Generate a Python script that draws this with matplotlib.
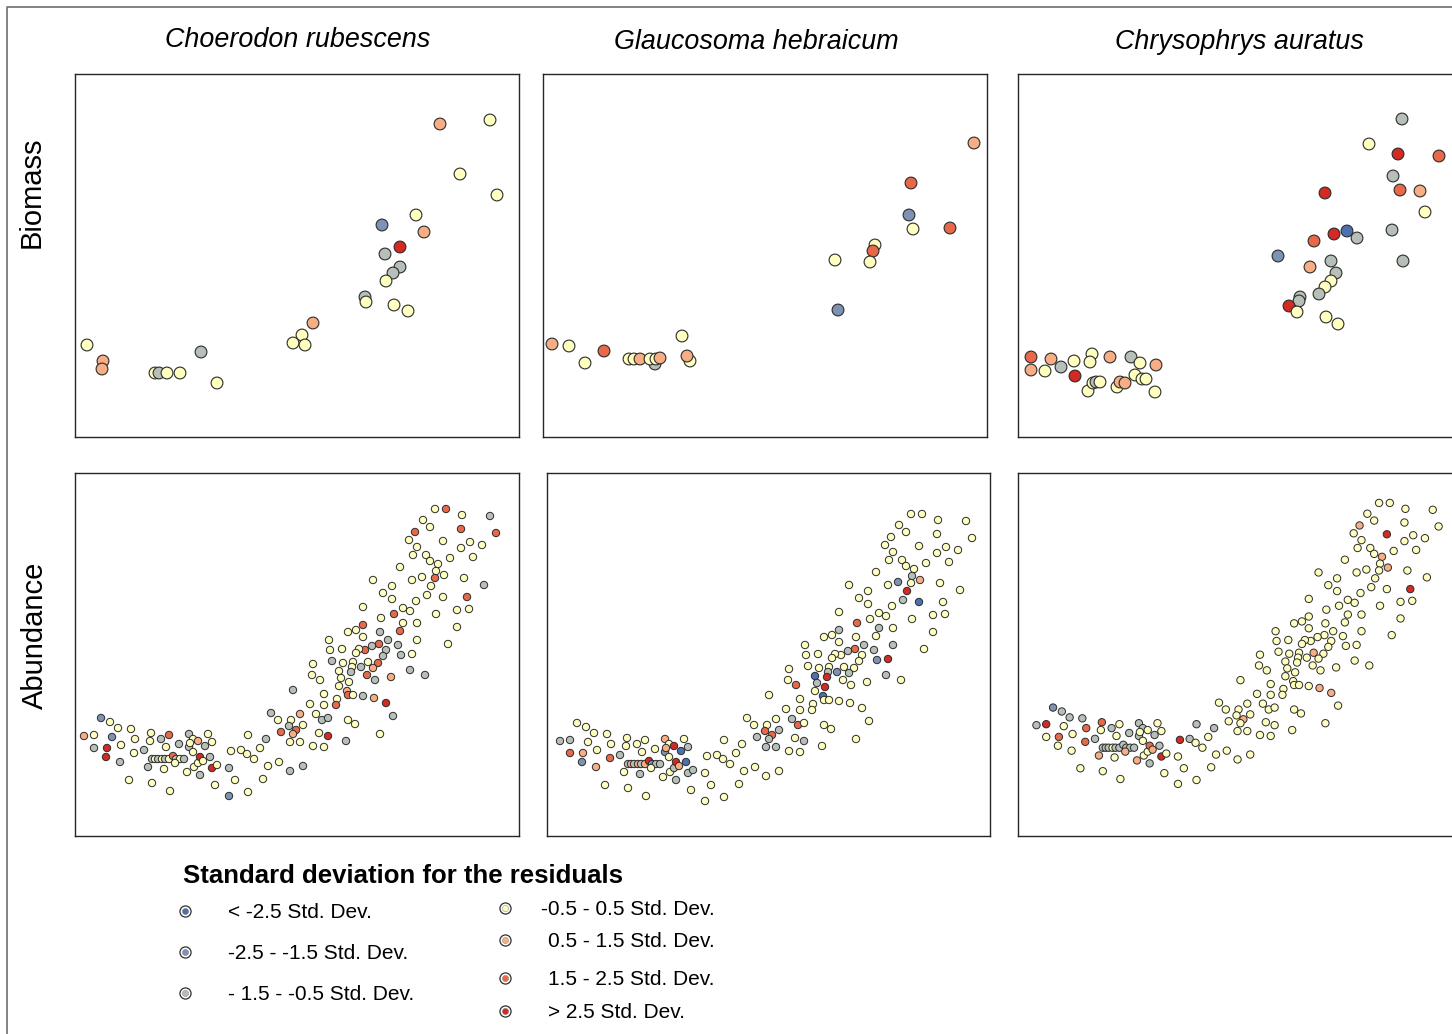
import matplotlib
matplotlib.use("Agg")
import matplotlib.pyplot as plt

plt.rcParams['font.family'] = ['Liberation Sans', 'DejaVu Sans']

# residual classes: 0 <-2.5 ... 6 >2.5
class_labels = ["< -2.5 Std. Dev.", "-2.5 - -1.5 Std. Dev.", "- 1.5 - -0.5 Std. Dev.",
                "-0.5 - 0.5 Std. Dev.", "0.5 - 1.5 Std. Dev.", "1.5 - 2.5 Std. Dev.",
                "> 2.5 Std. Dev."]
class_colors = ['#4a72b0', '#7d93b3', '#b6c0b9', '#ffffc0', '#f8ae84', '#e8694a', '#d42a24']

species = ["Choerodon rubescens", "Glaucosoma hebraicum", "Chrysophrys auratus"]

# ---- Biomass sites (one set per species) ----
bio_x1 = [365, 415, 385, 422, 341, 307, 349, 325, 310, 325, 318, 311, 290, 291, 319, 333,
          238, 227, 218, 230, 12, 28, 27, 126, 80, 84, 92, 105, 142]
bio_y1 = [313, 317, 263, 242, 222, 212, 205, 190, 183, 170, 164, 156, 140, 135, 132, 126,
          114, 102, 94, 92, 92, 76, 68, 85, 64, 64, 64, 64, 54]
bio_c1 = [4, 3, 3, 3, 3, 1, 4, 6, 2, 2, 2, 3, 2, 3, 3, 3,
          4, 3, 3, 3, 3, 4, 4, 2, 3, 2, 3, 3, 3]

bio_x2 = [431, 368, 366, 370, 407, 332, 330, 327, 292, 295, 139, 9, 26, 61, 42, 86,
          91, 97, 112, 107, 113, 117, 147, 144]
bio_y2 = [294, 254, 222, 208, 209, 192, 186, 175, 177, 127, 101, 93, 91, 86, 74, 78,
          78, 78, 73, 78, 78, 79, 76, 81]
bio_c2 = [4, 5, 1, 3, 5, 3, 5, 3, 3, 1, 3, 4, 3, 5, 3, 3,
          3, 4, 2, 3, 3, 4, 3, 4]

bio_x3 = [384, 351, 380, 421, 375, 382, 402, 407, 307, 316, 329, 339, 374, 385, 296, 260,
          292, 313, 318, 313, 307, 301, 282, 281, 271, 279, 308, 320,
          13, 13, 33, 27, 43, 56, 57, 74, 72, 92, 113, 122, 138, 117, 124, 128, 137,
          70, 75, 78, 82, 99, 102, 107]
bio_y3 = [318, 293, 283, 281, 261, 247, 246, 225, 244, 203, 206, 199, 207, 176, 196, 181,
          170, 176, 164, 156, 150, 143, 140, 136, 131, 125, 120, 113,
          80, 67, 78, 66, 70, 76, 61, 83, 75, 80, 80, 74, 72, 62, 58, 58, 45,
          46, 54, 55, 55, 50, 55, 54]
bio_c3 = [2, 3, 6, 5, 2, 5, 4, 3, 6, 6, 0, 2, 2, 2, 5, 1,
          4, 2, 2, 3, 3, 2, 2, 2, 6, 3, 3, 3,
          5, 4, 4, 3, 2, 3, 6, 3, 3, 4, 2, 3, 4, 3, 3, 3, 3,
          3, 3, 2, 3, 3, 4, 4]

# ---- Abundance sites (shared by all species) ----
site_x = [26, 35, 43, 56, 9, 19, 37, 60, 76, 75, 86, 94, 114, 118, 123, 133, 19, 32, 31, 46,
          45, 59, 69, 91, 104, 114, 115, 130, 137, 118, 77, 80, 83, 87, 90, 94, 98, 101, 105, 109,
          100, 73, 89, 112, 119, 123, 125, 128, 135, 125, 137, 142, 54, 77, 95, 140, 154, 154, 160, 173,
          156, 166, 172, 179, 173, 185, 191, 193, 188, 204, 215, 228, 196, 203, 216, 225, 214, 221, 218, 206,
          215, 225, 228, 360, 371, 387, 415, 348, 355, 340, 386, 421, 334, 368, 395, 407, 386, 342, 338, 351,
          355, 363, 375, 398, 325, 361, 369, 360, 347, 337, 389, 409, 298, 317, 356, 308, 317, 352, 368, 392,
          341, 288, 328, 335, 382, 394, 361, 319, 306, 328, 342, 288, 281, 273, 305, 325, 382, 288, 254, 313,
          342, 373, 304, 297, 290, 311, 323, 255, 267, 284, 281, 308, 326, 337, 238, 257, 268, 278, 293, 303,
          277, 286, 298, 335, 350, 264, 276, 237, 245, 266, 274, 292, 300, 316, 264, 218, 272, 249, 273, 278,
          288, 299, 311, 262, 235, 249, 261, 241, 318, 247, 253, 273, 280, 244, 253, 305, 238, 249, 271]
site_y = [118, 114, 108, 107, 100, 101, 99, 97, 103, 95, 97, 101, 102, 97, 95, 102, 88, 88, 79, 91,
          74, 83, 86, 89, 92, 89, 93, 90, 94, 84, 77, 77, 77, 77, 77, 77, 80, 77, 77, 77,
          73, 69, 67, 64, 69, 73, 79, 75, 79, 61, 68, 71, 56, 53, 45, 51, 40, 68, 56, 44,
          85, 86, 82, 77, 101, 88, 97, 70, 57, 74, 65, 70, 123, 116, 116, 122, 110, 106, 102, 104,
          94, 94, 111, 327, 327, 321, 320, 316, 309, 304, 307, 303, 296, 295, 294, 291, 288, 289, 281, 281,
          275, 272, 278, 279, 269, 265, 261, 258, 259, 256, 258, 251, 256, 250, 250, 243, 237, 241, 239, 239,
          235, 229, 228, 225, 226, 227, 222, 222, 218, 213, 213, 211, 206, 204, 204, 205, 209, 199, 196, 196,
          196, 192, 192, 190, 186, 186, 191, 186, 187, 187, 183, 180, 181, 182, 172, 175, 173, 174, 174, 173,
          169, 169, 168, 166, 161, 165, 164, 161, 156, 158, 154, 161, 156, 159, 150, 146, 145, 142, 141, 141,
          140, 138, 133, 137, 132, 131, 131, 122, 120, 116, 118, 116, 112, 103, 100, 102, 90, 89, 95]

abund_c1 = [1, 3, 3, 3, 4, 3, 1, 3, 3, 3, 2, 5, 2, 3, 4, 3, 2, 6, 6, 3,
            2, 3, 2, 3, 2, 2, 3, 2, 3, 3, 2, 3, 2, 3, 2, 3, 5, 2, 3, 2,
            3, 2, 3, 3, 3, 3, 6, 3, 2, 2, 6, 3, 3, 3, 3, 3, 1, 2, 3, 3,
            3, 3, 3, 3, 3, 3, 2, 3, 3, 3, 2, 2, 2, 3, 3, 4, 2, 5, 4, 5,
            3, 3, 3, 3, 5, 3, 2, 3, 3, 5, 5, 5, 3, 3, 3, 3, 3, 3, 3, 3,
            3, 3, 3, 3, 3, 3, 3, 5, 3, 3, 3, 2, 3, 3, 3, 3, 3, 3, 3, 5,
            3, 3, 3, 3, 3, 3, 3, 5, 3, 3, 3, 5, 3, 3, 2, 5, 3, 3, 3, 2,
            3, 3, 5, 2, 5, 2, 2, 3, 3, 3, 3, 2, 2, 3, 3, 2, 3, 3, 3, 5,
            3, 2, 4, 2, 2, 3, 2, 3, 3, 3, 3, 5, 2, 4, 3, 2, 4, 3, 5, 3,
            2, 4, 6, 3, 3, 3, 5, 3, 2, 2, 2, 3, 3, 3, 6, 3, 3, 3, 2]
abund_c2 = [3, 3, 3, 3, 2, 2, 3, 3, 3, 3, 3, 3, 4, 3, 6, 3, 5, 4, 1, 3,
            4, 5, 2, 3, 3, 1, 4, 0, 2, 3, 2, 4, 2, 4, 2, 4, 6, 1, 2, 2,
            3, 3, 2, 3, 3, 2, 6, 4, 0, 2, 2, 2, 3, 3, 3, 3, 3, 3, 3, 3,
            3, 3, 3, 3, 3, 3, 3, 3, 3, 3, 3, 3, 3, 3, 3, 3, 5, 5, 2, 2,
            2, 2, 2, 3, 3, 3, 3, 3, 3, 3, 3, 3, 3, 3, 3, 3, 3, 3, 3, 3,
            3, 3, 3, 3, 3, 2, 4, 3, 1, 3, 3, 3, 3, 3, 6, 3, 3, 2, 0, 3,
            3, 3, 3, 3, 3, 3, 3, 3, 5, 2, 3, 2, 3, 3, 3, 3, 3, 3, 3, 2,
            2, 3, 5, 2, 3, 3, 2, 3, 3, 3, 3, 3, 1, 6, 3, 3, 3, 3, 3, 3,
            2, 1, 2, 2, 3, 0, 6, 3, 5, 2, 6, 3, 3, 3, 3, 3, 0, 3, 3, 3,
            3, 3, 3, 3, 3, 3, 3, 2, 3, 5, 3, 3, 3, 3, 2, 3, 3, 3, 3]
abund_c3 = [1, 2, 2, 2, 2, 6, 3, 5, 5, 3, 2, 3, 2, 2, 3, 3, 3, 5, 3, 3,
            3, 5, 2, 3, 2, 2, 3, 2, 3, 3, 2, 2, 2, 3, 2, 2, 2, 2, 2, 2,
            4, 4, 3, 4, 3, 3, 5, 4, 2, 2, 6, 3, 3, 3, 3, 3, 3, 3, 3, 3,
            6, 2, 3, 3, 2, 3, 2, 3, 3, 3, 3, 3, 3, 3, 3, 3, 3, 4, 3, 3,
            3, 3, 3, 3, 3, 3, 3, 3, 3, 4, 3, 3, 3, 6, 3, 3, 3, 3, 3, 3,
            3, 4, 3, 3, 3, 3, 4, 3, 3, 3, 3, 3, 3, 3, 3, 3, 3, 3, 3, 6,
            3, 3, 3, 3, 3, 3, 3, 3, 3, 3, 3, 3, 3, 3, 3, 3, 3, 3, 3, 3,
            3, 3, 3, 3, 3, 3, 3, 3, 3, 3, 3, 3, 3, 3, 3, 3, 3, 3, 4, 3,
            3, 3, 3, 3, 3, 3, 3, 3, 3, 3, 3, 3, 3, 3, 3, 3, 3, 3, 3, 3,
            3, 4, 4, 3, 3, 3, 3, 3, 3, 3, 3, 3, 3, 3, 3, 3, 3, 3, 3]

W, H = 1452, 1034
fig = plt.figure(figsize=(W / 100, H / 100), dpi=100)

# overlay in pixel coordinates for frame, labels and legend
ov = fig.add_axes([0, 0, 1, 1])
ov.set_xlim(0, W)
ov.set_ylim(H, 0)
ov.axis('off')
ov.plot([7, 7, W + 20], [H + 20, 7, 7], color='#7a7a7a', lw=1.3, clip_on=False)


def panel(left, top, width, height):
    ax = fig.add_axes([left / W, 1 - (top + height) / H, width / W, height / H])
    ax.set_xticks([])
    ax.set_yticks([])
    for s in ax.spines.values():
        s.set_color('#262626')
        s.set_linewidth(1.0)
    return ax


# biomass row
bio_sets = [(bio_x1, bio_y1, bio_c1), (bio_x2, bio_y2, bio_c2), (bio_x3, bio_y3, bio_c3)]
bio_boxes = [(75, 74, 444), (543, 74, 444), (1018, 74, 445)]
for (bx, by, bc), (l, t, w) in zip(bio_sets, bio_boxes):
    ax = panel(l, t, w, 363)
    ax.scatter(bx, by, s=72, c=[class_colors[k] for k in bc],
               edgecolors='#2b2b2b', linewidths=0.8, zorder=3)
    ax.set_xlim(0, w)
    ax.set_ylim(0, 363)

# abundance row
ab_classes = [abund_c1, abund_c2, abund_c3]
ab_boxes = [(75, 473, 444), (547, 473, 443), (1018, 473, 445)]
ab_lims = [((0, 444), (0, 363)), ((-4, 439), (5, 368)), ((-9.9, 446), (-13.2, 357.6))]
for cls, (l, t, w), (xl, yl) in zip(ab_classes, ab_boxes, ab_lims):
    ax = panel(l, t, w, 363)
    ax.scatter(site_x, site_y, s=28, c=[class_colors[k] for k in cls],
               edgecolors='#2b2b2b', linewidths=0.7, zorder=3)
    ax.set_xlim(*xl)
    ax.set_ylim(*yl)

# titles and row labels
for name, xc, yc in zip(species, [298, 756, 1239], [40, 42, 42]):
    ov.text(xc, yc, name, fontsize=19.4, style='italic', ha='center', va='center')
ov.text(32, 192, "Biomass", fontsize=21, rotation=90, ha='center', va='center')
ov.text(35, 635, "Abundance", fontsize=21, rotation=90, ha='center', va='center')

# legend
ov.text(183, 876, "Standard deviation for the residuals", fontsize=18.5, fontweight='bold',
        ha='left', va='center')
leg_pos = [(185, 911, 228), (185, 952, 228), (185, 993, 228),
           (505, 908, 541), (505, 940, 548), (505, 978, 548), (505, 1011, 548)]
for k, (mx, my, tx) in enumerate(leg_pos):
    ov.scatter([mx], [my], s=64, c='white', edgecolors='#2f2f2f', linewidths=0.9, zorder=3)
    ov.scatter([mx], [my], s=20, c=class_colors[k], edgecolors='#777777', linewidths=0.3, zorder=4)
    ov.text(tx, my + 1.5, class_labels[k], fontsize=15, ha='left', va='center')

fig.savefig("out.png", dpi=100)
